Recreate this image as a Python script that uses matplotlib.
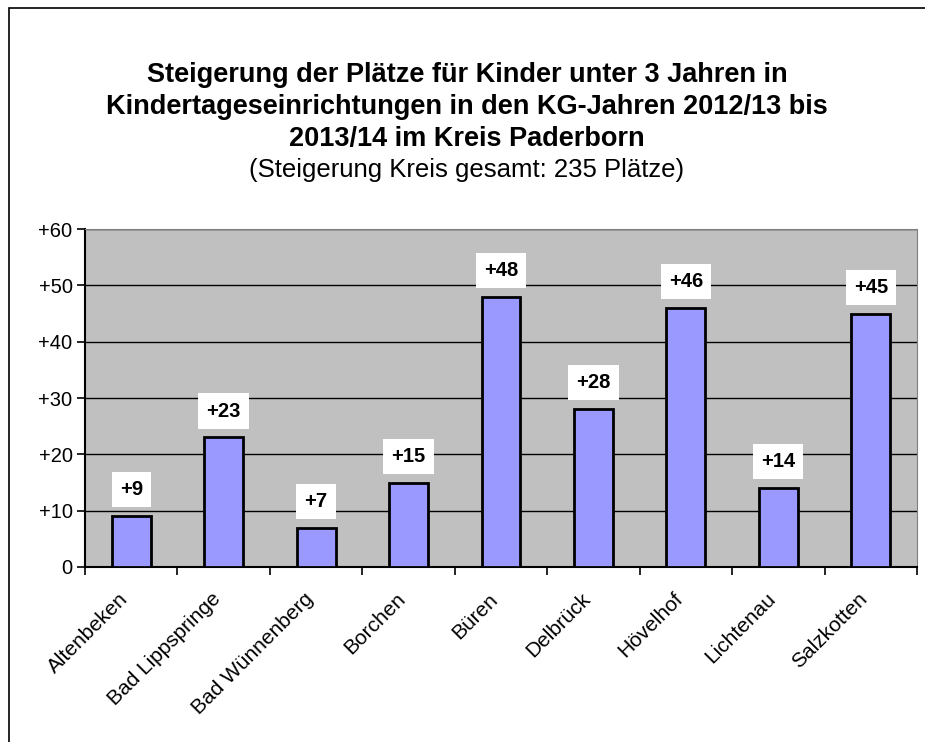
#!/usr/bin/env python3
"""Bar chart: Steigerung der U3-Plätze im Kreis Paderborn."""
import matplotlib.pyplot as plt
import matplotlib.transforms as mtransforms
from matplotlib.patches import Rectangle

plt.rcParams["font.family"] = ["Liberation Sans", "DejaVu Sans"]

GEMEINDEN = ["Altenbeken", "Bad Lippspringe", "Bad Wünnenberg", "Borchen", "Büren",
             "Delbrück", "Hövelhof", "Lichtenau", "Salzkotten"]
STEIGERUNG = [9, 23, 7, 15, 48, 28, 46, 14, 45]
Y_TICKS = [0, 10, 20, 30, 40, 50, 60]
Y_LABELS = ["0", "+10", "+20", "+30", "+40", "+50", "+60"]

W, H = 925, 742
fig = plt.figure(figsize=(W / 100, H / 100), dpi=100)

# outer chart frame (right/bottom edge cut off like the original)
fig.patches.append(Rectangle((9 / W, -0.01), 1.0, 1 - 8 / H + 0.01,
                             transform=fig.transFigure, fill=False,
                             edgecolor="black", linewidth=1.2))

left, right, top, bottom = 85, 917, 229, 567
ax = fig.add_axes([left / W, 1 - bottom / H, (right - left) / W, (bottom - top) / H])
ax.set_facecolor("#C0C0C0")

x = list(range(len(GEMEINDEN)))
ax.bar(x, STEIGERUNG, width=0.42, color="#9999FF", edgecolor="black", linewidth=2, zorder=3)

for xi, v in zip(x, STEIGERUNG):
    ax.annotate(f"+{v}", (xi, v), xytext=(0, 19), textcoords="offset points",
                ha="center", va="center", fontsize=14.5, fontweight="bold", zorder=4,
                bbox=dict(boxstyle="square,pad=0.4", facecolor="white", edgecolor="none"))

ax.set_xlim(-0.5, len(GEMEINDEN) - 0.5)
ax.set_ylim(0, 60)
ax.set_yticks(Y_TICKS)
ax.set_yticklabels(Y_LABELS, fontsize=14.5)
ax.yaxis.grid(True, color="black", linewidth=1.0, zorder=1)
ax.set_axisbelow(True)

# category boundary ticks on x axis, labels centered under bars
ax.set_xticks([i - 0.5 for i in range(len(GEMEINDEN) + 1)])
ax.set_xticklabels([])
ax.set_xticks(x, minor=True)
ax.set_xticklabels(GEMEINDEN, minor=True, rotation=45, ha="right", va="center",
                   rotation_mode="anchor", fontsize=15)
ax.tick_params(axis="x", which="minor", length=0, pad=21)
ax.tick_params(axis="x", which="major", length=6, width=1.2, color="black")
ax.tick_params(axis="y", length=6, width=1.2, pad=3)
shift = mtransforms.ScaledTranslation(-6 / 100, 0, fig.dpi_scale_trans)
for lbl in ax.get_xticklabels(minor=True):
    lbl.set_transform(lbl.get_transform() + shift)

ax.spines["left"].set_color("black")
ax.spines["left"].set_linewidth(1.5)
ax.spines["bottom"].set_color("black")
ax.spines["bottom"].set_linewidth(1.5)
ax.spines["top"].set_color("#808080")
ax.spines["right"].set_color("#808080")

fig.text(467 / W, 1 - 107 / H, "Steigerung der Plätze für Kinder unter 3 Jahren in\n"
         "Kindertageseinrichtungen in den KG-Jahren 2012/13 bis\n"
         "2013/14 im Kreis Paderborn", ha="center", va="center",
         fontsize=19.5, fontweight="bold", linespacing=1.28)
fig.text(467 / W, 1 - 170 / H, "(Steigerung Kreis gesamt: 235 Plätze)", ha="center",
         va="center", fontsize=18.5)

fig.savefig("out.png", dpi=100)
